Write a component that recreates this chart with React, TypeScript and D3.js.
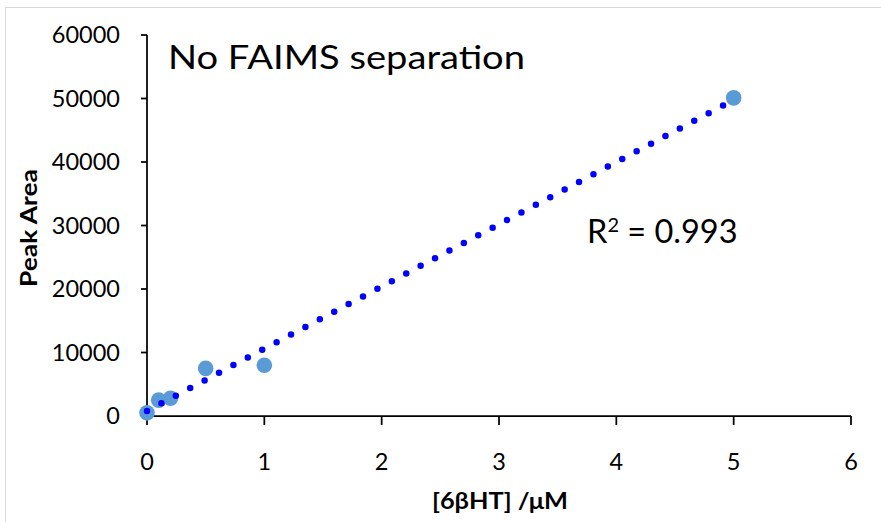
import React from "react";
import * as d3 from "d3";

const concentrations = [0, 0.1, 0.2, 0.5, 1, 5];
const peakAreas = [500, 2500, 2800, 7500, 8000, 50100];
const xTicks = [0, 1, 2, 3, 4, 5, 6];
const yTicks = [0, 10000, 20000, 30000, 40000, 50000, 60000];
const chartTitle = "No FAIMS separation";
const rSquaredValue = "0.993";
const xAxisTitle = "[6βHT] /μM";
const yAxisTitle = "Peak Area";

const W = 881;
const H = 522;
const FONT = "Lato, 'Noto Sans', 'Open Sans', sans-serif";

export default function App() {
  const x = d3.scaleLinear().domain([0, 6]).range([147, 851]);
  const y = d3.scaleLinear().domain([0, 60000]).range([416, 35]);

  // linear least-squares trendline
  const mx = d3.mean(concentrations) as number;
  const my = d3.mean(peakAreas) as number;
  let sxy = 0;
  let sxx = 0;
  concentrations.forEach((c, i) => {
    sxy += (c - mx) * (peakAreas[i] - my);
    sxx += (c - mx) * (c - mx);
  });
  const slope = sxy / sxx;
  const intercept = my - slope * mx;
  const xMin = d3.min(concentrations) as number;
  const xMax = d3.max(concentrations) as number;
  const trend = [xMin, xMax].map((c) => [c, intercept + slope * c] as [number, number]);
  const line = d3
    .line<[number, number]>()
    .x((d) => x(d[0]))
    .y((d) => y(d[1]));

  const axisColor = "#000";

  return (
    <svg
      width={W}
      height={H}
      style={{ position: "absolute", left: 0, top: 0, background: "#fff" }}
      fontFamily={FONT}
    >
      <rect x={0} y={0} width={W} height={H} fill="#fff" />
      <rect x={5.5} y={7.5} width={W + 20} height={H + 20} fill="none" stroke="#d9d9d9" strokeWidth={1} />

      {/* y axis */}
      <line x1={x(0)} x2={x(0)} y1={y(60000)} y2={y(0)} stroke={axisColor} strokeWidth={1.75} />
      {yTicks.map((t) => (
        <g key={"y" + t}>
          <line x1={x(0) - 6} x2={x(0)} y1={y(t)} y2={y(t)} stroke={axisColor} strokeWidth={1.75} />
          <text x={120} y={y(t)} dy="0.36em" textAnchor="end" fontSize={23.5} fill="#000">
            {t}
          </text>
        </g>
      ))}

      {/* x axis */}
      <line x1={x(0)} x2={x(6)} y1={y(0)} y2={y(0)} stroke={axisColor} strokeWidth={1.75} />
      {xTicks.map((t) => (
        <g key={"x" + t}>
          <line x1={x(t)} x2={x(t)} y1={y(0)} y2={y(0) + 9} stroke={axisColor} strokeWidth={1.75} />
          <text x={x(t)} y={470} textAnchor="middle" fontSize={23.5} fill="#000">
            {t}
          </text>
        </g>
      ))}

      {/* data points */}
      {concentrations.map((c, i) => (
        <circle key={"p" + i} cx={x(c)} cy={y(peakAreas[i])} r={7.8} fill="#5b9bd5" />
      ))}

      {/* trendline */}
      <path
        d={line(trend) || ""}
        fill="none"
        stroke="#0000ff"
        strokeWidth={6.5}
        strokeLinecap="round"
        strokeDasharray="0 16.3"
      />

      {/* labels */}
      <text x={168} y={69} fontSize={32.5} fill="#000" textLength={357} lengthAdjust="spacingAndGlyphs">
        {chartTitle}
      </text>
      <text x={587} y={243} fontSize={32.5} fill="#000">
        <tspan>R</tspan>
        <tspan fontSize={20} dy={-11}>2</tspan>
        <tspan dy={11}>{" = " + rSquaredValue}</tspan>
      </text>
      <text
        x={500}
        y={509}
        textAnchor="middle"
        fontSize={23.5}
        fontWeight="bold"
        fill="#000"
        textLength={136}
        lengthAdjust="spacingAndGlyphs"
      >
        {xAxisTitle}
      </text>
      <text
        transform="translate(37,228) rotate(-90)"
        textAnchor="middle"
        fontSize={23.5}
        fontWeight="bold"
        fill="#000"
        textLength={118}
        lengthAdjust="spacingAndGlyphs"
      >
        {yAxisTitle}
      </text>
    </svg>
  );
}
